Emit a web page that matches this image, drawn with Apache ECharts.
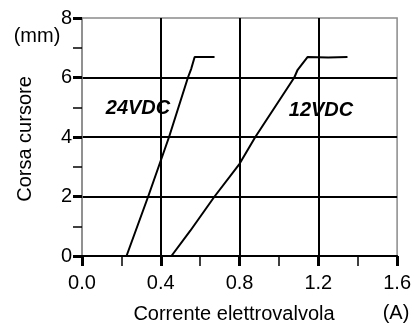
<!DOCTYPE html>
<html>
<head>
<meta charset="utf-8">
<script src="https://cdn.jsdelivr.net/npm/echarts@6/dist/echarts.min.js"></script>
<style>
  html, body { margin: 0; padding: 0; background: #fff; }
  #chart { width: 414px; height: 325px; }
</style>
</head>
<body>
<div id="chart"></div>
<script>
// Solenoid valve: spool stroke (mm) vs. coil current (A)
const xTicks = [0.0, 0.4, 0.8, 1.2, 1.6];
const yTicks = [0, 2, 4, 6, 8];

const current24 = [0, 0.226, 0.336, 0.442, 0.538, 0.555, 0.572, 0.673];
const stroke24  = [0, 0,     2,     4,     6,     6.3,   6.69,  6.69];

const current12 = [0, 0.454, 0.55, 0.673, 0.80, 0.88, 1.078, 1.095, 1.146, 1.25, 1.348];
const stroke12  = [0, 0,     0.85, 2,     3.1,  4,    6,     6.26,  6.69,  6.67, 6.69];

const seriesNames = ['24VDC', '12VDC'];

const FONT = '"Liberation Sans", Arial, sans-serif';
const FS = 20;

function pairs(xs, ys) { return xs.map((x, i) => [x, ys[i]]); }

const chart = echarts.init(document.getElementById('chart'), null, { renderer: 'canvas' });

const lineStyle = { color: '#000', width: 2 };

function label(text, x, y, extra) {
  return Object.assign({
    type: 'text', x: x, y: y, z: 10,
    style: { text: text, fill: '#000', fontFamily: FONT, fontSize: FS,
             align: 'center', verticalAlign: 'middle' }
  }, extra || {});
}

const tag24 = label(seriesNames[0], 138, 108);
tag24.style.fontStyle = 'italic';
tag24.style.fontWeight = 'bold';
const tag12 = label(seriesNames[1], 321, 110);
tag12.style.fontStyle = 'italic';
tag12.style.fontWeight = 'bold';

chart.setOption({
  animation: false,
  backgroundColor: '#fff',
  grid: {
    left: 82, right: 16, top: 18, bottom: 69,
    show: true, borderColor: '#8a8a8a', borderWidth: 1.5, backgroundColor: 'transparent'
  },
  xAxis: {
    type: 'value',
    min: xTicks[0], max: xTicks[xTicks.length - 1], interval: 0.4,
    axisLine: { show: true, onZero: false, lineStyle: { color: '#000', width: 2 } },
    axisTick: { show: true, length: 10, lineStyle: { color: '#000', width: 3 } },
    minorTick: { show: true, splitNumber: 2, length: 10, lineStyle: { color: '#000', width: 1.5 } },
    splitLine: { show: true, showMinLine: false, showMaxLine: false, lineStyle: { color: '#000', width: 2 } },
    axisLabel: { color: '#000', fontSize: FS, fontFamily: FONT, margin: 17,
                 formatter: v => v.toFixed(1) }
  },
  yAxis: {
    type: 'value',
    min: yTicks[0], max: yTicks[yTicks.length - 1], interval: 2,
    axisLine: { show: true, onZero: false, lineStyle: { color: '#8a8a8a', width: 1.5 } },
    axisTick: { show: true, length: 9, lineStyle: { color: '#000', width: 3 } },
    minorTick: { show: true, splitNumber: 2, length: 9, lineStyle: { color: '#000', width: 1.5 } },
    splitLine: { show: true, showMinLine: false, showMaxLine: false, lineStyle: { color: '#000', width: 2 } },
    axisLabel: { color: '#000', fontSize: FS, fontFamily: FONT, margin: 10 }
  },
  series: [
    { name: seriesNames[0], type: 'line', data: pairs(current24, stroke24),
      showSymbol: false, symbol: 'none', lineStyle: lineStyle, z: 5 },
    { name: seriesNames[1], type: 'line', data: pairs(current12, stroke12),
      showSymbol: false, symbol: 'none', lineStyle: lineStyle, z: 5 }
  ],
  graphic: [
    tag24,
    tag12,
    label('(mm)', 37, 36),
    label('Corsa cursore', 25, 139, { rotation: Math.PI / 2 }),
    label('Corrente elettrovalvola', 234, 314),
    label('(A)', 396, 313)
  ]
});
</script>
</body>
</html>
